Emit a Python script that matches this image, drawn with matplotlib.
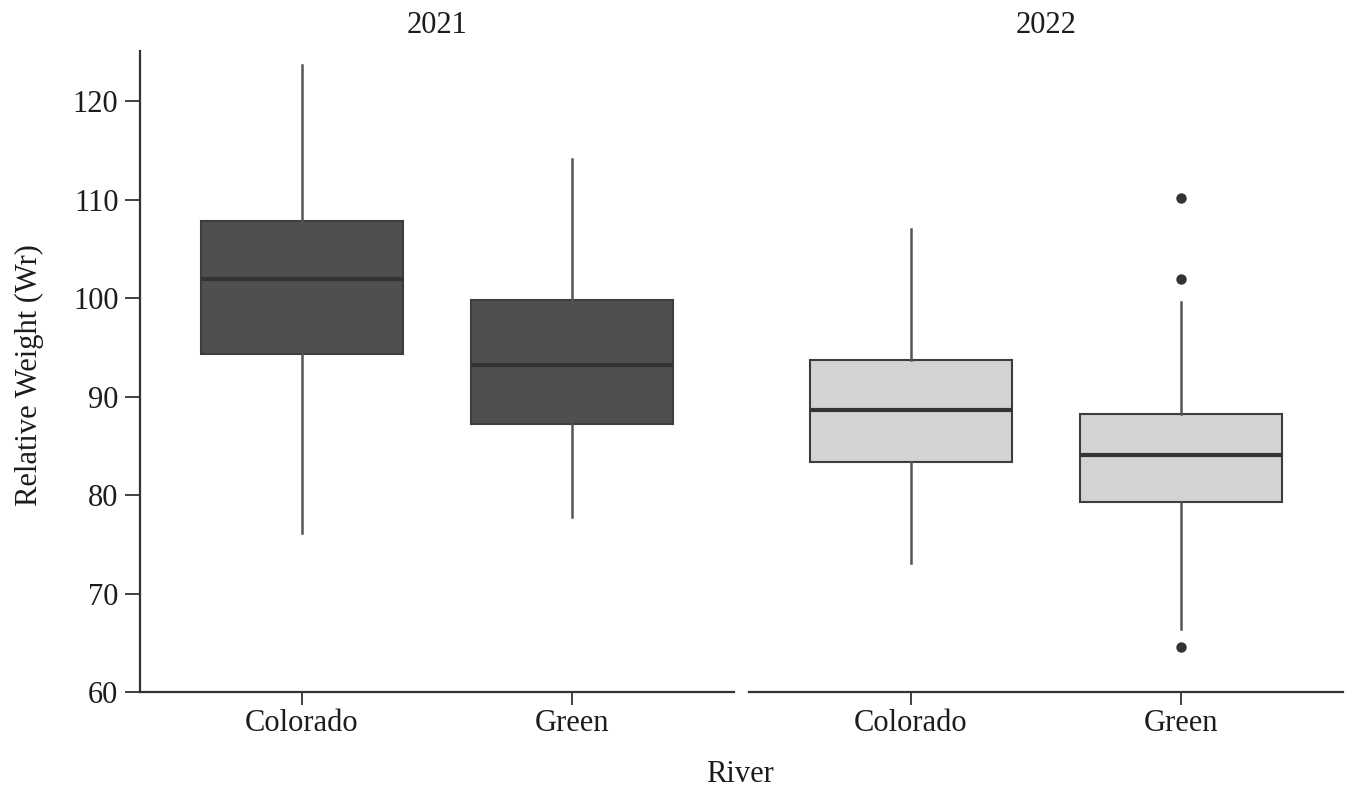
import matplotlib
matplotlib.use("Agg")
import matplotlib.pyplot as plt

# Relative weight (Wr) summary statistics per river and year
years = ["2021", "2022"]
rivers = ["Colorado", "Green"]

whislo = {"2021": [76.2, 77.8], "2022": [73.1, 66.4]}
q1 = {"2021": [94.3, 87.2], "2022": [83.35, 79.3]}
med = {"2021": [102.0, 93.2], "2022": [88.7, 84.05]}
q3 = {"2021": [107.8, 99.8], "2022": [93.7, 88.25]}
whishi = {"2021": [123.7, 114.1], "2022": [107.0, 99.65]}
fliers = {"2021": [[], []], "2022": [[], [110.2, 102.0, 64.6]]}

fills = {"2021": "#4f4f4f", "2022": "#d3d3d3"}
edge = "#3d3d3d"
ink = "#1c1c1c"
FS = 22

plt.rcParams["font.family"] = ["Liberation Serif", "DejaVu Serif"]

W, H = 1354, 799
fig = plt.figure(figsize=(W / 100, H / 100), dpi=100)

y_bottom = 1 - 692.3 / H
y_top = 1 - 51 / H
panels = [(140, 734), (749, 1343)]

axes = []
for (x0, x1), year in zip(panels, years):
    ax = fig.add_axes([x0 / W, y_bottom, (x1 - x0) / W, y_top - y_bottom])
    stats = []
    for i, r in enumerate(rivers):
        stats.append(dict(label=r, whislo=whislo[year][i], q1=q1[year][i],
                          med=med[year][i], q3=q3[year][i],
                          whishi=whishi[year][i], fliers=fliers[year][i]))
    ax.bxp(stats, positions=[0, 1], widths=0.75, patch_artist=True,
           showcaps=False,
           boxprops=dict(facecolor=fills[year], edgecolor=edge, linewidth=1.5),
           medianprops=dict(color="#333333", linewidth=3),
           whiskerprops=dict(color="#555555", linewidth=1.8),
           flierprops=dict(marker="o", markerfacecolor="#333333",
                           markeredgecolor="#333333", markersize=6.5))
    ax.set_xlim(-0.6, 1.6)
    ax.set_ylim(60, 125.1)
    ax.set_title(year, fontsize=FS, color=ink, pad=13)
    for s in ["top", "right"]:
        ax.spines[s].set_visible(False)
    ax.spines["bottom"].set_linewidth(1.6)
    ax.spines["bottom"].set_color("#333333")
    ax.spines["left"].set_linewidth(1.6)
    ax.spines["left"].set_color("#333333")
    ax.tick_params(axis="x", length=9, width=1.3, color="#333333",
                   labelsize=FS, labelcolor=ink, pad=3)
    ax.tick_params(axis="y", length=10.5, width=1.3, color="#333333",
                   labelsize=FS, labelcolor=ink, pad=5)
    ax.set_yticks([60, 70, 80, 90, 100, 110, 120])
    axes.append(ax)

axes[1].spines["left"].set_visible(False)
axes[1].tick_params(axis="y", left=False, labelleft=False)

fig.text(29 / W, 1 - 375 / H, "Relative Weight (Wr)", rotation=90,
         ha="center", va="center", fontsize=FS, color=ink)
fig.text(740 / W, 1 - 775 / H, "River", ha="center", va="center",
         fontsize=FS, color=ink)

fig.savefig("out.png", dpi=100, facecolor="white")
